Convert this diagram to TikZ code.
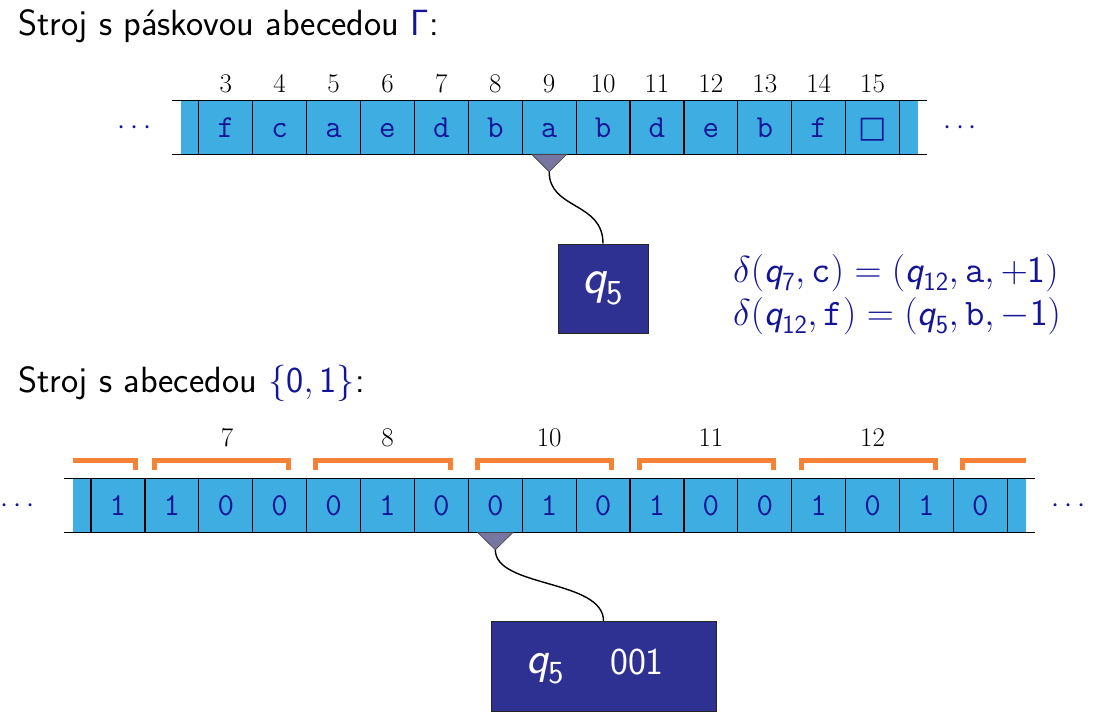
\RequirePackage{fix-cm}
\documentclass[tikz,border=0pt]{standalone}
\usepackage{amsmath}
\usepackage{fontspec}
\newfontfamily\djv{DejaVu Sans}
\definecolor{tapeblue}{RGB}{62,174,226}
\definecolor{headcol}{RGB}{118,118,160}
\definecolor{boxcol}{RGB}{46,49,146}
\definecolor{brk}{RGB}{245,130,55}
\definecolor{sym}{RGB}{20,20,150}
\newcommand{\sq}[1]{\textsf{\itshape q}_{\textsf{#1}}}
\tikzset{
  title/.style={anchor=base west,inner sep=0pt,font=\fontsize{36.5}{42}\selectfont\sffamily},
  tsym/.style={anchor=base,inner sep=0pt,text=sym,font=\fontsize{32}{36}\selectfont\ttfamily},
  num/.style={anchor=base,inner sep=0pt,font=\fontsize{27}{30}\selectfont\rmfamily},
  dotsn/.style={anchor=base,inner sep=0pt,text=sym,font=\fontsize{29}{34}\selectfont},
  eq/.style={anchor=base west,inner sep=0pt,text=sym,font=\fontsize{37.5}{42}\selectfont\sffamily},
  tapeline/.style={line width=1.2pt,black},
  headtri/.style={fill=headcol,draw=black!75,line width=0.6pt},
  wire/.style={line width=1.4pt,black},
  ctrl/.style={fill=boxcol,draw=black!85,line width=0.8pt,inner sep=0pt,text=white},
  bracket/.style={brk,line width=5pt,line join=miter,line cap=butt},
}
\begin{document}
\begin{tikzpicture}[x=1pt,y=-1pt]
\useasboundingbox (0,0) rectangle (1107,719);
% ---------- top ----------
\node[title] (t1) at (18,36) {Stroj s páskovou abecedou {\color{sym}Γ}:};
\fill[tapeblue] (181,100.7) rectangle (918,154.3);
\draw[tapeline] (172,100.7) -- (927,100.7);
\draw[tapeline] (172,154.3) -- (927,154.3);
\foreach \k in {2,...,15} \draw[tapeline] ({91+53.9*\k},100.7) -- ({91+53.9*\k},154.3);
\foreach \s [count=\i from 2] in {f,c,a,e,d,b,a,b,d,e,b,f,{{\djv\fontsize{30}{34}\selectfont □}}} {
  \node[tsym] (ts\i) at ({91+53.9*(\i+0.5)},137.5) {\s};
  \pgfmathtruncatemacro{\n}{\i+1}
  \node[num] (tn\i) at ({91+53.9*(\i+0.5)},92.5) {\n};
}
\node[dotsn] (tdl) at (137,135) {$\cdots$};
\node[dotsn] (tdr) at (962.5,135) {$\cdots$};
\filldraw[headtri] (531.7,154.3) -- (566.7,154.3) -- (549.2,171.8) -- cycle;
\coordinate (h1) at (549.2,171.8);
\node[ctrl,minimum width=90pt,minimum height=89pt,font=\fontsize{50}{56}\selectfont] (b1) at (603,288.5) {$\sq{5}$};
\draw[wire] (h1) .. controls +(0,38) and +(0,-42) .. (b1.north);
\node[eq] (e1) at (733,282) {$\delta(\sq{7},\texttt{c})=(\sq{12},\texttt{a},+\textsf{1})$};
\node[eq] (e2) at (733,325) {$\delta(\sq{12},\texttt{f})=(\sq{5},\texttt{b},-\textsf{1})$};
% ---------- bottom ----------
\node[title] (t2) at (18,392) {Stroj s abecedou {\color{sym}$\{\textsf{0},\textsf{1}\}$}:};
\fill[tapeblue] (72.7,478.3) rectangle (1025.7,532.3);
\draw[tapeline] (64,478.3) -- (1035,478.3);
\draw[tapeline] (64,532.3) -- (1035,532.3);
\foreach \k in {0,...,17} \draw[tapeline] ({91+53.9*\k},478.3) -- ({91+53.9*\k},532.3);
\foreach \s [count=\i from 0] in {1,1,0,0,0,1,0,0,1,0,1,0,0,1,0,1,0} {
  \node[tsym] (bs\i) at ({91+53.9*(\i+0.5)},515) {\s};
}
\node[dotsn] (bdl) at (20,512.5) {$\cdots$};
\node[dotsn] (bdr) at (1071,512.5) {$\cdots$};
% brackets
\draw[bracket] (72.7,460) -- (135.8,460) -- (135.8,469.7);
\foreach \b [count=\j] in {144.9,306.6,468.3,630,791.7} {
  \draw[bracket] ({\b+6.8+2.5},469.7) -- ({\b+6.8+2.5},460) -- ({\b+146-2.5},460) -- ({\b+146-2.5},469.7);
}
\draw[bracket] (962.7,469.7) -- (962.7,460) -- (1025.7,460);
\foreach \lab/\x in {7/227,8/387.5,10/549.2,11/710.9,12/872.6} {
  \node[num] (bl\lab) at (\x,446) {\lab};
}
\filldraw[headtri] (477.5,532.3) -- (513.1,532.3) -- (495.3,549.8) -- cycle;
\coordinate (h2) at (495.3,549.8);
\node[ctrl,minimum width=225pt,minimum height=90pt] (b2) at (603.5,666.5) {};
\node[anchor=base,inner sep=0pt,text=white,font=\fontsize{46}{52}\selectfont] (bq) at (545,673) {$\sq{5}$};
\node[anchor=base,inner sep=0pt,text=white,font=\fontsize{38}{44}\selectfont\sffamily] (bn) at (637,674) {001};
\draw[wire] (h2) .. controls +(0,38) and +(0,-42) .. (b2.north);
\end{tikzpicture}
\end{document}
